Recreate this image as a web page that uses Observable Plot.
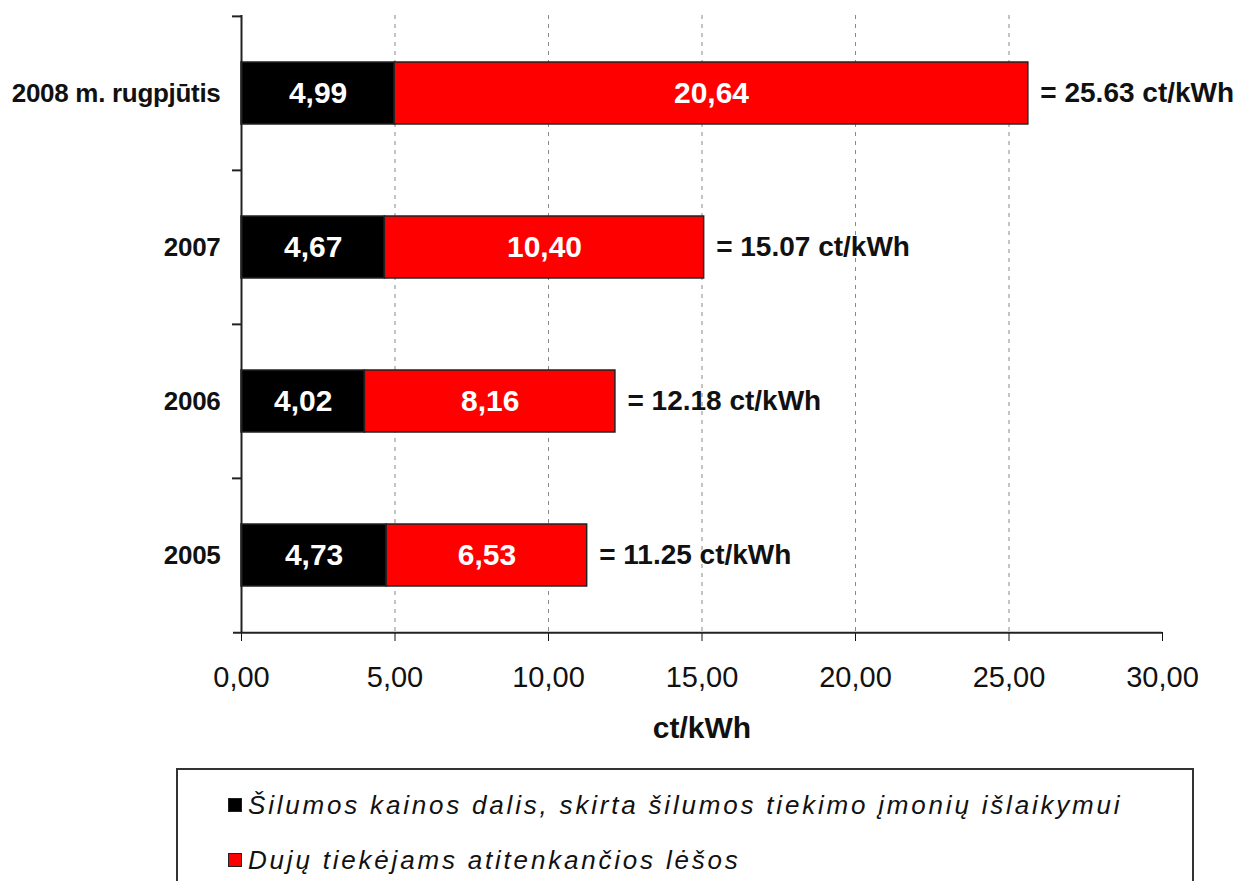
<!DOCTYPE html>
<html><head><meta charset="utf-8">
<script src="https://cdn.jsdelivr.net/npm/d3@7"></script>
<script src="https://cdn.jsdelivr.net/npm/@observablehq/plot@0.6"></script>
<style>
body{margin:0;background:#fff;font-family:"Liberation Sans",Arial,sans-serif;}
#wrap{position:relative;width:1237px;height:881px;overflow:hidden;background:#fff;}
#chart svg{display:block;}
#chart g[aria-label^="y-axis"] text{font-family:"Liberation Sans",Arial,sans-serif;font-weight:bold;font-size:26px;letter-spacing:-0.3px;fill:#111;}
#chart g[aria-label^="x-axis"] text{font-size:29px;fill:#111;}
#legend{position:absolute;left:176px;top:768px;width:1018px;height:140px;border:2px solid #333;box-sizing:border-box;}
.li{position:absolute;left:50px;display:flex;align-items:center;font-style:italic;font-size:26px;letter-spacing:2.8px;color:#111;white-space:nowrap;}
.sw{width:12px;height:12px;border:1px solid #222;margin-right:6px;}
</style></head>
<body><div id="wrap"><div id="chart"></div><div id="legend"></div></div>
<script>
const categories = ["2008 m. rugpjūtis", "2007", "2006", "2005"];
const seriesNames = ["Šilumos kainos dalis, skirta šilumos tiekimo įmonių išlaikymui", "Dujų tiekėjams atitenkančios lėšos"];
const supplierShare = [4.99, 4.67, 4.02, 4.73];
const gasShare = [20.64, 10.40, 8.16, 6.53];
const totals = [25.63, 15.07, 12.18, 11.25];
const xTicks = [0, 5, 10, 15, 20, 25, 30];
const gridTicks = [5, 10, 15, 20, 25];
const seriesColors = ["#000000", "#ff0000"];
const axisTitle = "ct/kWh";

const fmtComma = d => d.toFixed(2).replace(".", ",");
const rows = [];
categories.forEach((c, i) => {
  rows.push({cat: c, s: 0, x1: 0, x2: supplierShare[i], v: supplierShare[i]});
  rows.push({cat: c, s: 1, x1: supplierShare[i], x2: supplierShare[i] + gasShare[i], v: gasShare[i]});
});
const totalRows = categories.map((c, i) => ({cat: c, end: supplierShare[i] + gasShare[i], total: totals[i]}));

const W = 1237, H = 760, mt = 15, mb = 128, ml = 241, mr = 75;
const step = (H - mt - mb) / categories.length;

const plot = Plot.plot({
  width: W, height: H,
  marginTop: mt, marginBottom: mb, marginLeft: ml, marginRight: mr,
  style: {fontFamily: "Liberation Sans, Arial, sans-serif", fontSize: "29px", background: "white", color: "#111", overflow: "visible"},
  x: {domain: [0, 30], ticks: xTicks, tickFormat: fmtComma, tickSize: 9, tickPadding: 25, label: null},
  y: {domain: categories, paddingInner: 0.6, paddingOuter: 0.3, tickSize: 0, tickPadding: 21, label: null},
  marks: [
    Plot.ruleX(gridTicks, {stroke: "#888", strokeDasharray: "4,5", strokeWidth: 1}),
    Plot.barX(rows, {x1: "x1", x2: "x2", y: "cat", fill: d => seriesColors[d.s], stroke: "#222", strokeWidth: 1.5}),
    Plot.text(rows, {x: d => (d.x1 + d.x2) / 2, y: "cat", text: d => fmtComma(d.v), fill: "white", fontWeight: "bold", fontSize: 30}),
    Plot.text(totalRows, {x: "end", y: "cat", text: d => "= " + d.total.toFixed(2) + " ct/kWh", textAnchor: "start", dx: 12, fontWeight: "bold", fontSize: 28, fill: "#111"}),
    Plot.ruleX([0], {stroke: "#222", strokeWidth: 2}),
    Plot.ruleY(categories, {y: d => d, dy: -step / 2, x1: 0, x2: 0, insetLeft: -9, stroke: "#222", strokeWidth: 2}),
    Plot.ruleY([categories[categories.length - 1]], {y: d => d, dy: step / 2, insetLeft: -8, stroke: "#222", strokeWidth: 2}),
    Plot.text([axisTitle], {frameAnchor: "bottom", dy: 105, text: d => d, fontWeight: "bold", fontSize: 30, fill: "#111"})
  ]
});
document.getElementById("chart").appendChild(plot);

const leg = document.getElementById("legend");
const rowsY = [35, 90];
seriesNames.forEach((n, i) => {
  const el = document.createElement("div");
  el.className = "li";
  el.style.top = (rowsY[i] - 17) + "px";
  el.style.height = "34px";
  el.innerHTML = `<span class="sw" style="background:${seriesColors[i]}"></span><span></span>`;
  el.lastChild.textContent = n;
  leg.appendChild(el);
});
</script></body></html>
